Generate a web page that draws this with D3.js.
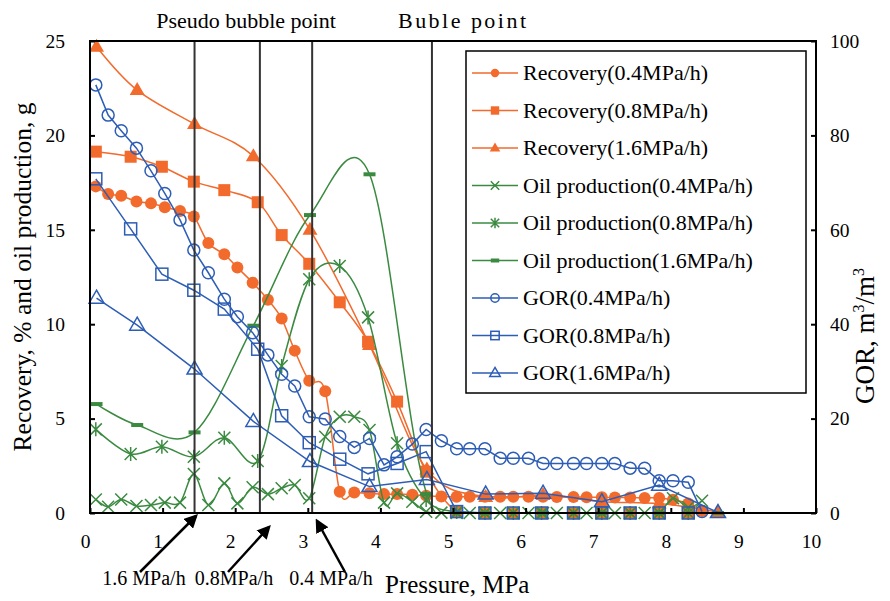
<!DOCTYPE html>
<html>
<head>
<meta charset="utf-8">
<script src="https://cdn.jsdelivr.net/npm/d3@7"></script>
<style>
  body { margin: 0; background: #fff; }
  svg { font-family: "Liberation Serif", "Times New Roman", serif; }
</style>
</head>
<body>
<script>
var width = 890;
var height = 601;

// pressure points, MPa
var x04 = [0.08, 0.25, 0.43, 0.64, 0.84, 1.03, 1.24, 1.43, 1.63, 1.85, 2.03, 2.24, 2.45, 2.64, 2.82, 3.02,
  3.24, 3.44, 3.64, 3.85, 4.05, 4.23, 4.44, 4.63, 4.84, 5.05, 5.23, 5.44, 5.65, 5.83, 6.04, 6.24, 6.43,
  6.66, 6.84, 7.05, 7.23, 7.44, 7.64, 7.84, 8.03, 8.24, 8.43];
var x08 = [0.08, 0.56, 0.99, 1.43, 1.85, 2.31, 2.64, 3.02, 3.44, 3.83, 4.23, 4.63, 5.05, 5.44, 5.83, 6.22,
  6.66, 7.05, 7.44, 7.84, 8.24];
var x16 = [0.09, 0.65, 1.44, 2.25, 3.03, 3.85, 4.64, 5.45, 6.24, 7.05, 7.84, 8.65];

// recovery, %
var rec04 = [17.3, 16.9, 16.8, 16.5, 16.4, 16.2, 16.0, 15.7, 14.3, 13.7, 13.0, 12.2, 11.3, 10.3, 8.6, 7.0,
  6.45, 1.13, 1.08, 1.04, 1.0, 1.0, 0.97, 0.92, 0.88, 0.86, 0.86, 0.86, 0.86, 0.86, 0.86, 0.86, 0.85,
  0.85, 0.84, 0.83, 0.82, 0.82, 0.8, 0.8, 0.7, 0.5, 0.1];
var rec08 = [19.14, 18.87, 18.34, 17.55, 17.1, 16.46, 14.72, 13.2, 11.16, 9.07, 5.9, 2.19, 0.07, 0, 0, 0,
  0, 0, 0, 0, 0];
var rec16 = [24.7, 22.4, 20.6, 18.9, 15.0, 8.9, 2.3, 0.85, 0.95, 0.6, 0.5, 0.05];

// oil production, g
var oil04 = [0.72, 0.33, 0.72, 0.37, 0.42, 0.55, 0.55, 2.07, 0.42, 1.57, 0.51, 1.36, 1.0, 1.31, 1.48, 0.78,
  4.04, 5.1, 5.1, 4.4, 0.55, 1.04, 0.6, 0.07, 0.02, 0, 0, 0, 0, 0, 0, 0, 0,
  0, 0, 0, 0, 0, 0, 0, 0.78, 0.3, 0.65];
var oil08 = [4.43, 3.13, 3.51, 2.98, 3.99, 2.75, 7.79, 12.38, 13.08, 10.36, 3.69, 0.69, 0.05, 0, 0, 0,
  0, 0, 0, 0, 0];
var oil16 = [5.77, 4.66, 4.27, 9.92, 15.78, 17.94, 1.0, 0, 0, 0, 0, 0];

// GOR, m3/m3
var gor04 = [90.7, 84.3, 81.0, 77.3, 72.5, 67.7, 62.1, 55.7, 50.9, 45.3, 41.6, 38.2, 33.5, 29.4, 26.9, 20.4,
  19.9, 16.2, 13.9, 15.8, 10.2, 11.9, 14.6, 17.7, 15.3, 13.6, 13.6, 13.6, 11.6, 11.6, 11.6, 10.5, 10.5,
  10.5, 10.5, 10.5, 10.5, 9.5, 9.5, 6.85, 6.85, 6.5, 0.3];
var gor08 = [70.8, 60.2, 50.6, 47.2, 43.2, 34.7, 20.6, 14.9, 11.4, 8.3, 10.5, 13.0, 0.3, 0, 0, 0,
  0, 0, 0, 0, 0];
var gor16 = [45.5, 39.8, 30.5, 19.4, 10.9, 5.6, 7.1, 4.0, 4.2, 2.4, 5.9, 0.1];

var xTicks = [0, 1, 2, 3, 4, 5, 6, 7, 8, 9, 10];
var yTicks = [0, 5, 10, 15, 20, 25];
var gorTicks = [0, 20, 40, 60, 80, 100];

var markLines = [1.44, 2.34, 3.06, 4.71];

var orange = '#f26a2c';
var green = '#3a8a40';
var blue = '#2d5db5';

var plotLeft = 90, plotRight = 816, plotTop = 41, plotBottom = 513;

var svg = d3.select('body')
  .append('svg')
  .attr('width', width)
  .attr('height', height);

var defs = svg.append('defs');
defs.append('clipPath').attr('id', 'plotclip')
  .append('rect')
  .attr('x', plotLeft).attr('y', plotTop)
  .attr('width', plotRight - plotLeft).attr('height', plotBottom - plotTop);

var xScale = d3.scaleLinear().domain([0, 10]).range([plotLeft, plotRight]);
var yScale = d3.scaleLinear().domain([0, 25]).range([plotBottom, plotTop]);
var gorScale = d3.scaleLinear().domain([0, 100]).range([plotBottom, plotTop]);

var series = [
  { name: 'Recovery(0.4MPa/h)', x: x04, y: rec04, scale: yScale, color: orange, mark: 'dot', smooth: true },
  { name: 'Recovery(0.8MPa/h)', x: x08, y: rec08, scale: yScale, color: orange, mark: 'square', smooth: true },
  { name: 'Recovery(1.6MPa/h)', x: x16, y: rec16, scale: yScale, color: orange, mark: 'triangle', smooth: true },
  { name: 'Oil production(0.4MPa/h)', x: x04, y: oil04, scale: yScale, color: green, mark: 'cross', smooth: true },
  { name: 'Oil production(0.8MPa/h)', x: x08, y: oil08, scale: yScale, color: green, mark: 'star', smooth: true },
  { name: 'Oil production(1.6MPa/h)', x: x16, y: oil16, scale: yScale, color: green, mark: 'dash', smooth: true },
  { name: 'GOR(0.4MPa/h)', x: x04, y: gor04, scale: gorScale, color: blue, mark: 'ocircle', smooth: false },
  { name: 'GOR(0.8MPa/h)', x: x08, y: gor08, scale: gorScale, color: blue, mark: 'osquare', smooth: false },
  { name: 'GOR(1.6MPa/h)', x: x16, y: gor16, scale: gorScale, color: blue, mark: 'otriangle', smooth: false }
];

function drawMark(g, type, color, s) {
  var a = 6 * s;
  if (type === 'dot') {
    g.append('circle').attr('r', a).attr('fill', color);
  } else if (type === 'square') {
    g.append('rect').attr('x', -a).attr('y', -a).attr('width', 2 * a).attr('height', 2 * a).attr('fill', color);
  } else if (type === 'triangle') {
    g.append('path').attr('d', 'M0,' + (-8 * s) + 'L' + (7.5 * s) + ',' + (5 * s) + 'L' + (-7.5 * s) + ',' + (5 * s) + 'Z').attr('fill', color);
  } else if (type === 'cross') {
    g.append('path').attr('d', 'M' + -a + ',' + -a + 'L' + a + ',' + a + 'M' + -a + ',' + a + 'L' + a + ',' + -a)
      .attr('stroke', color).attr('stroke-width', 1.5).attr('fill', 'none');
  } else if (type === 'star') {
    g.append('path').attr('d', 'M' + -a + ',' + -a + 'L' + a + ',' + a + 'M' + -a + ',' + a + 'L' + a + ',' + -a + 'M0,' + (-a - 1) + 'L0,' + (a + 1))
      .attr('stroke', color).attr('stroke-width', 1.5).attr('fill', 'none');
  } else if (type === 'dash') {
    g.append('rect').attr('x', -a).attr('y', -2).attr('width', 2 * a).attr('height', 4).attr('fill', color);
  } else if (type === 'ocircle') {
    g.append('circle').attr('r', a).attr('fill', 'none').attr('stroke', color).attr('stroke-width', 1.5);
  } else if (type === 'osquare') {
    g.append('rect').attr('x', -a).attr('y', -a).attr('width', 2 * a).attr('height', 2 * a)
      .attr('fill', 'none').attr('stroke', color).attr('stroke-width', 1.5);
  } else if (type === 'otriangle') {
    g.append('path').attr('d', 'M0,' + (-8 * s) + 'L' + (7.5 * s) + ',' + (5 * s) + 'L' + (-7.5 * s) + ',' + (5 * s) + 'Z')
      .attr('fill', 'none').attr('stroke', color).attr('stroke-width', 1.5);
  }
}

// series
series.forEach(function(s) {
  var pts = s.x.map(function(v, i) { return [v, s.y[i]]; });
  var line = d3.line()
    .x(function(d) { return xScale(d[0]); })
    .y(function(d) { return s.scale(d[1]); })
    .curve(s.smooth ? d3.curveCatmullRom.alpha(0) : d3.curveLinear);

  svg.append('path')
    .datum(pts)
    .attr('d', line)
    .attr('clip-path', 'url(#plotclip)')
    .attr('fill', 'none')
    .attr('stroke', s.color)
    .attr('stroke-width', 1.5);

  svg.selectAll(null)
    .data(pts)
    .enter()
    .append('g')
    .attr('transform', function(d) { return 'translate(' + xScale(d[0]) + ',' + s.scale(d[1]) + ')'; })
    .each(function() { drawMark(d3.select(this), s.mark, s.color, 1); });
});

// pressure markers
svg.selectAll('line.mark')
  .data(markLines)
  .enter()
  .append('line')
  .attr('class', 'mark')
  .attr('x1', function(d) { return xScale(d); })
  .attr('x2', function(d) { return xScale(d); })
  .attr('y1', plotTop)
  .attr('y2', plotBottom)
  .attr('stroke', '#333')
  .attr('stroke-width', 2);

// frame
svg.append('rect')
  .attr('x', plotLeft).attr('y', plotTop)
  .attr('width', plotRight - plotLeft).attr('height', plotBottom - plotTop)
  .attr('fill', 'none').attr('stroke', '#000').attr('stroke-width', 2);

// axes
var xAxis = d3.axisBottom(xScale).tickValues(xTicks).tickSize(-5).tickPadding(21);
var yAxis = d3.axisLeft(yScale).tickValues(yTicks).tickSize(-5).tickPadding(25);
var gorAxis = d3.axisRight(gorScale).tickValues(gorTicks).tickSize(-5).tickPadding(14);

function styleAxis(g) {
  g.select('.domain').remove();
  g.selectAll('.tick line').attr('stroke', '#000').attr('stroke-width', 2);
  g.selectAll('.tick text').attr('font-size', 19.5).attr('font-family', '"Liberation Serif", serif').attr('fill', '#000');
}

svg.append('g').attr('transform', 'translate(0,' + plotBottom + ')').call(xAxis).call(styleAxis)
  .selectAll('.tick text').attr('dx', -5);
svg.append('g').attr('transform', 'translate(' + plotLeft + ',0)').call(yAxis).call(styleAxis);
svg.append('g').attr('transform', 'translate(' + plotRight + ',0)').call(gorAxis).call(styleAxis);

// axis titles
svg.append('text')
  .attr('transform', 'translate(31,' + ((plotTop + plotBottom) / 2) + ') rotate(-90)')
  .attr('text-anchor', 'middle')
  .attr('font-size', 25.5)
  .text('Recovery, % and oil production, g');

var gorTitle = svg.append('text')
  .attr('transform', 'translate(874,336) rotate(-90)')
  .attr('text-anchor', 'middle')
  .attr('font-size', 27);
gorTitle.append('tspan').text('GOR, m');
gorTitle.append('tspan').attr('font-size', 16).attr('dy', -10).text('3');
gorTitle.append('tspan').attr('dy', 10).text('/m');
gorTitle.append('tspan').attr('font-size', 16).attr('dy', -10).text('3');

svg.append('text')
  .attr('x', 385).attr('y', 593)
  .attr('font-size', 25)
  .text('Pressure, MPa');

// top notes
svg.append('text').attr('x', 246).attr('y', 28).attr('text-anchor', 'middle').attr('font-size', 22).text('Pseudo bubble point');
svg.append('text').attr('x', 398).attr('y', 28).attr('font-size', 22)
  .attr('textLength', 128).attr('lengthAdjust', 'spacing').text('Buble point');

// arrows with rate labels
var arrows = [
  { label: '1.6 MPa/h', lx: 144, x1: 140, y1: 572, x2: 196, y2: 516 },
  { label: '0.8MPa/h', lx: 234, x1: 228, y1: 572, x2: 269, y2: 527 },
  { label: '0.4 MPa/h', lx: 331, x1: 345, y1: 572, x2: 317, y2: 521 }
];

defs.append('marker')
  .attr('id', 'head')
  .attr('viewBox', '0 0 10 10')
  .attr('refX', 8).attr('refY', 5)
  .attr('markerWidth', 5.5).attr('markerHeight', 5.5)
  .attr('markerUnits', 'strokeWidth')
  .attr('orient', 'auto')
  .append('path').attr('d', 'M0,0L10,5L0,10Z').attr('fill', '#000');

arrows.forEach(function(a) {
  svg.append('line')
    .attr('x1', a.x1).attr('y1', a.y1).attr('x2', a.x2).attr('y2', a.y2)
    .attr('stroke', '#000').attr('stroke-width', 2.5)
    .attr('marker-end', 'url(#head)');
  svg.append('text')
    .attr('x', a.lx).attr('y', 585)
    .attr('text-anchor', 'middle')
    .attr('font-size', 20)
    .text(a.label);
});

// legend
var legend = svg.append('g');
legend.append('rect')
  .attr('x', 466).attr('y', 51).attr('width', 340).attr('height', 342)
  .attr('fill', '#fff').attr('stroke', '#000').attr('stroke-width', 1.5);

series.forEach(function(s, i) {
  var cy = 73 + i * 37.5;
  legend.append('line')
    .attr('x1', 472).attr('x2', 518).attr('y1', cy).attr('y2', cy)
    .attr('stroke', s.color).attr('stroke-width', 1.5);
  var g = legend.append('g').attr('transform', 'translate(495,' + cy + ')');
  drawMark(g, s.mark, s.color, 0.7);
  legend.append('text')
    .attr('x', 523).attr('y', cy + 7)
    .attr('font-size', 22)
    .text(s.name);
});
</script>
</body>
</html>
